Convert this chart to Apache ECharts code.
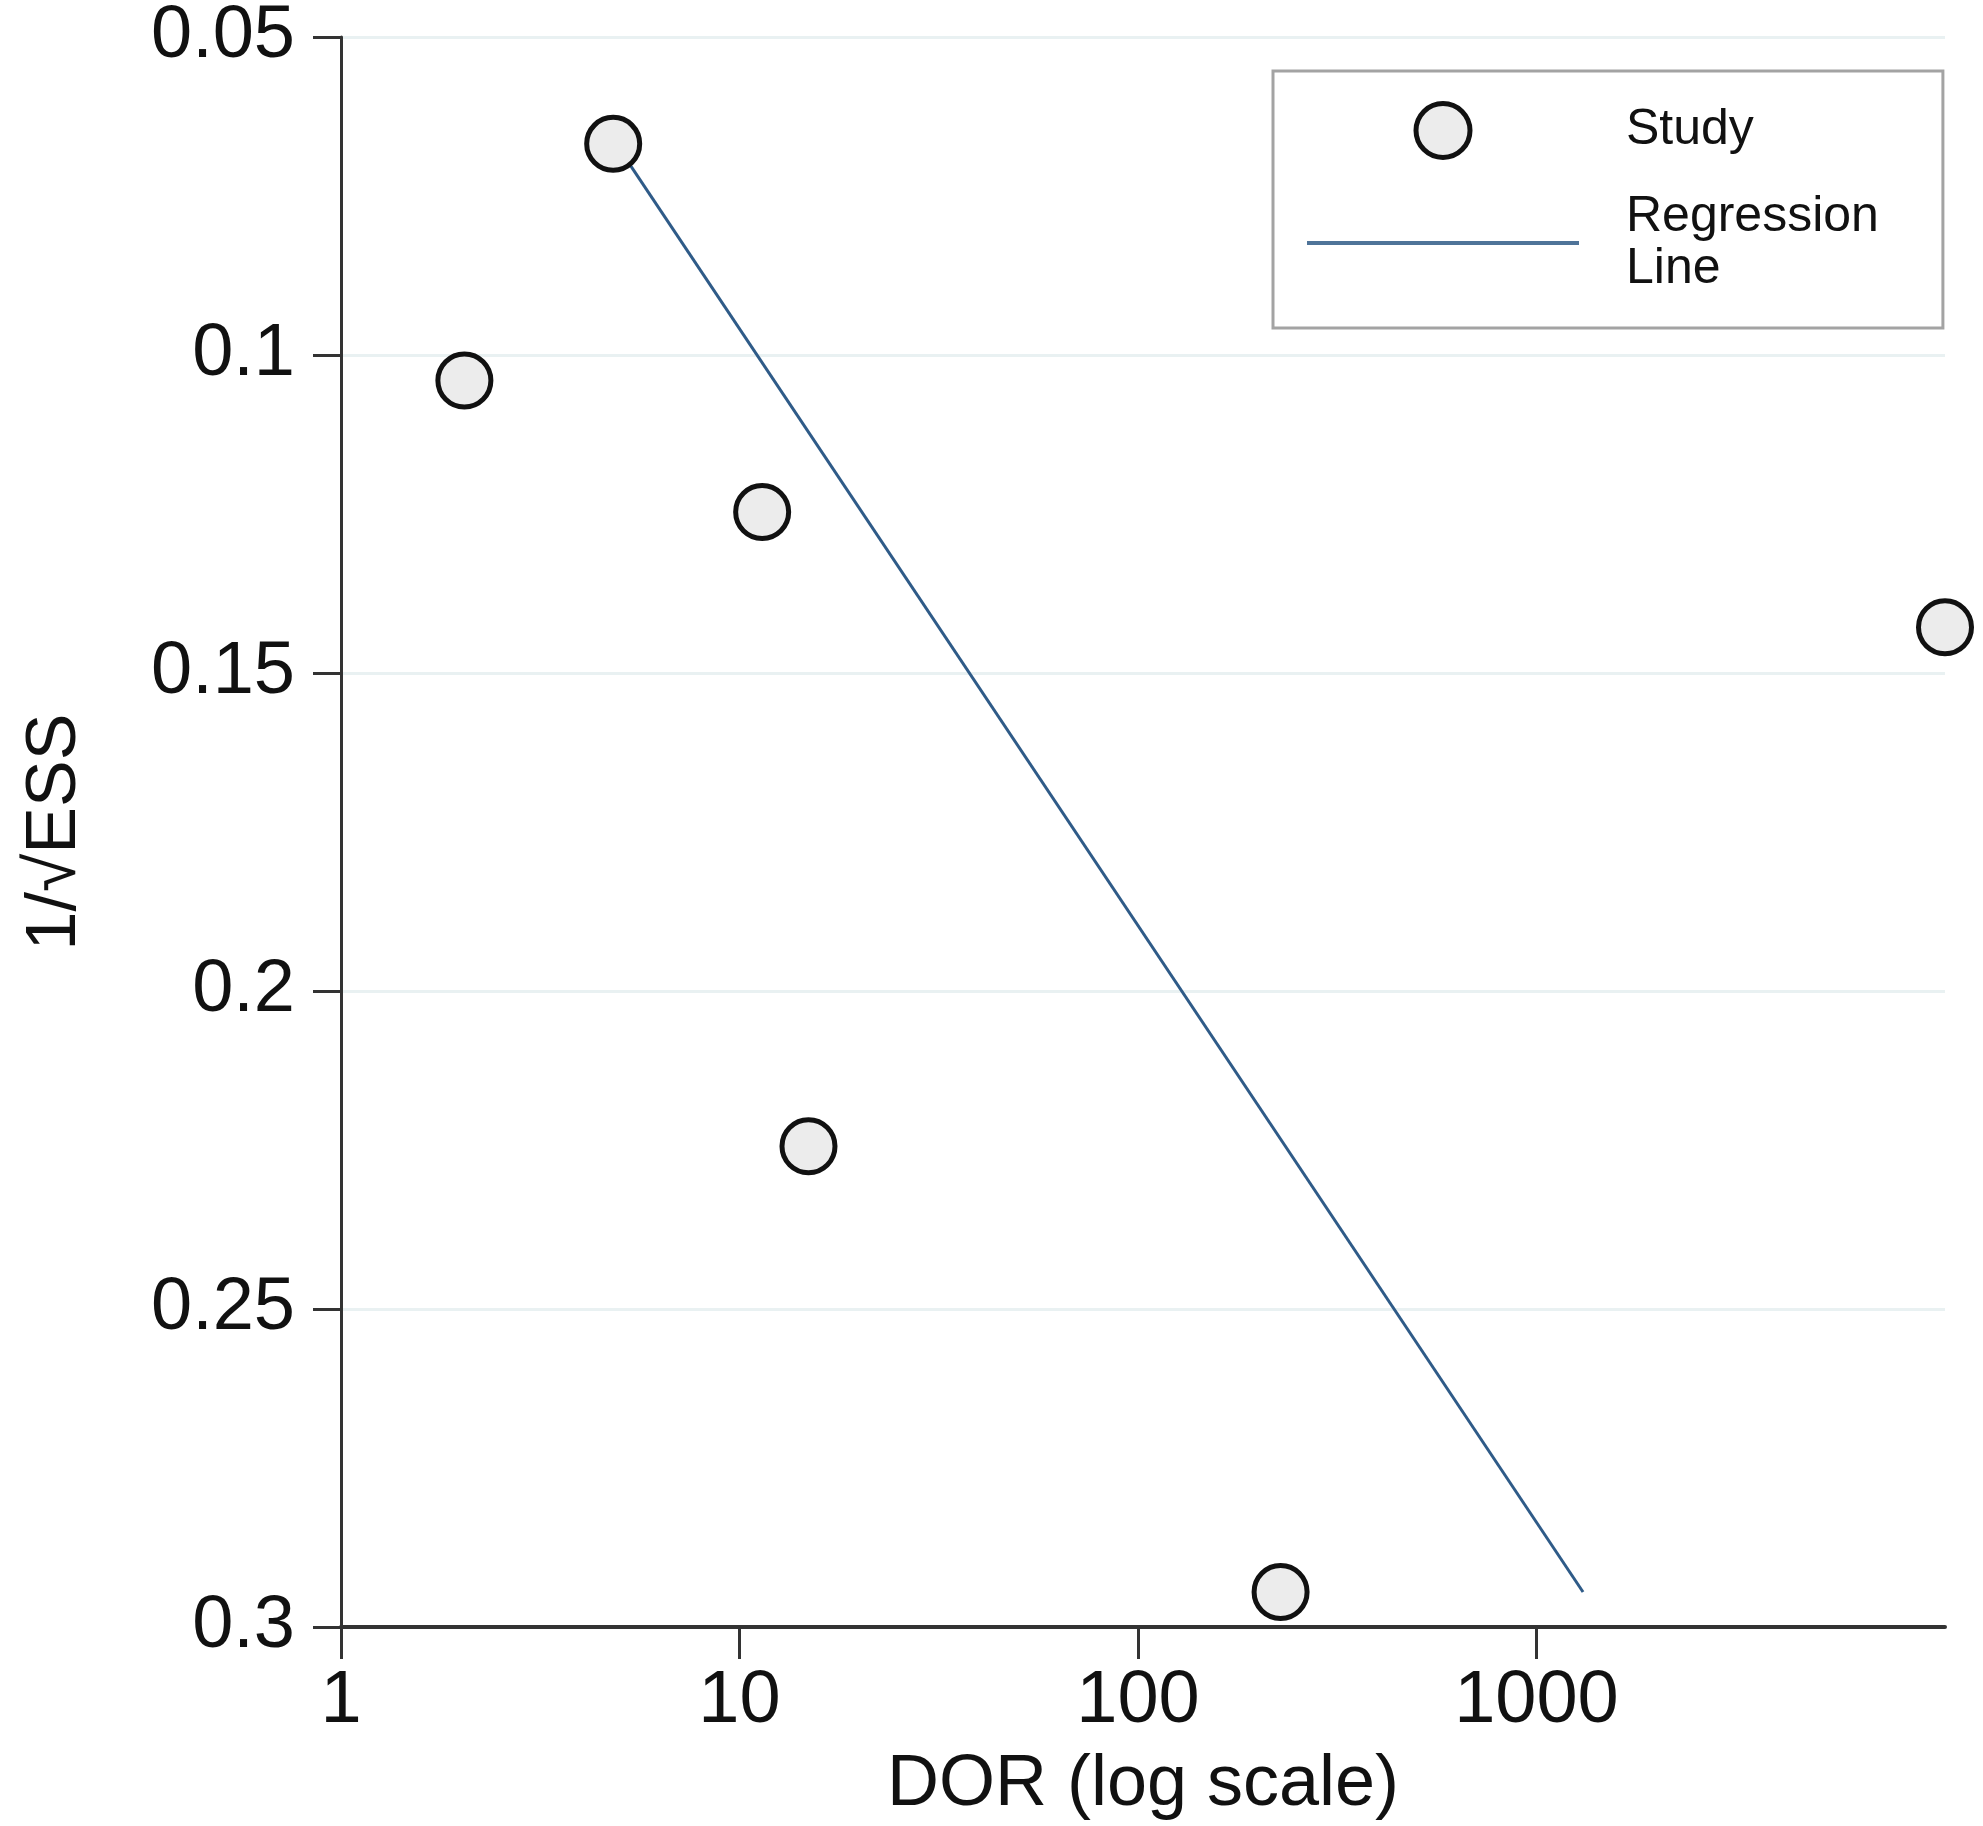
<!DOCTYPE html>
<html>
<head>
<meta charset="utf-8">
<title>Funnel plot - DOR vs 1/sqrt(ESS)</title>
<script src="https://cdn.jsdelivr.net/npm/echarts@6/dist/echarts.min.js"></script>
<style>
html, body { margin: 0; padding: 0; background: #fff; }
#chart { width: 1983px; height: 1826px; }
</style>
</head>
<body>
<div id="chart"></div>
<script>
// data
var studyDor = [4.82, 2.04, 11.4, 10600, 14.9, 228];
var studyInvEss = [0.0668, 0.1040, 0.1247, 0.1428, 0.2244, 0.2945];
var regDor = [4.9, 1309];
var regInvEss = [0.0668, 0.2945];
var xTicks = [1, 10, 100, 1000];

var fontName = '"Liberation Sans", Arial, Helvetica, sans-serif';

function pairs(xs, ys) {
	var out = [];
	for (var i = 0; i < xs.length; i++) {
		out.push([xs[i], ys[i]]);
	}
	return out;
}

var myChart = echarts.init(document.getElementById('chart'), null, { renderer: 'canvas' });

var option = {
	backgroundColor: '#ffffff',
	animation: false,
	textStyle: { fontFamily: fontName },
	grid: {
		left: 341,
		right: 38,
		top: 35,
		bottom: 199
	},
	legend: {
		orient: 'vertical',
		left: 1273,
		top: 71,
		padding: [30, 64, 33, 32],
		borderColor: '#a3a3a3',
		borderWidth: 3,
		itemWidth: 272,
		itemHeight: 54,
		itemGap: 31,
		selectedMode: false,
		textStyle: {
			fontSize: 50,
			lineHeight: 52,
			color: '#111',
			fontFamily: fontName,
			padding: [0, 0, 0, 42]
		},
		data: [{
			name: 'Study',
			itemStyle: { color: '#ececec', borderColor: '#111', borderWidth: 5 }
		}, {
			name: 'Regression\nLine',
			// only the line in the key, no marker
			itemStyle: { color: 'rgba(0,0,0,0)', borderWidth: 0, opacity: 0 },
			lineStyle: { color: '#4f7499', width: 4 }
		}]
	},
	xAxis: {
		type: 'log',
		logBase: 10,
		min: 1,
		max: 10600,
		name: 'DOR (log scale)',
		nameLocation: 'middle',
		nameGap: 122,
		nameTextStyle: { fontSize: 72, color: '#111', fontFamily: fontName },
		axisLine: { onZero: false, lineStyle: { color: '#333', width: 4 } },
		axisTick: {
			show: true,
			length: 32,
			customValues: xTicks,
			lineStyle: { color: '#333', width: 3 }
		},
		axisLabel: {
			fontSize: 74,
			color: '#111',
			margin: 38,
			customValues: xTicks,
			formatter: function (v) { return String(Math.round(v)); }
		},
		splitLine: { show: false },
		minorTick: { show: false }
	},
	yAxis: {
		type: 'value',
		inverse: true,
		min: 0.05,
		max: 0.3,
		interval: 0.05,
		name: '1/\u221AESS',
		nameLocation: 'middle',
		nameGap: 250,
		nameTextStyle: { fontSize: 70, color: '#111', fontFamily: fontName },
		axisLine: { show: true, onZero: false, lineStyle: { color: '#333', width: 3 } },
		axisTick: { show: true, length: 28, lineStyle: { color: '#333', width: 3 } },
		axisLabel: {
			fontSize: 74,
			color: '#111',
			margin: 46,
			formatter: function (v) { return String(+v.toFixed(2)); }
		},
		splitLine: { show: true, lineStyle: { color: '#e9f1f2', width: 3 } }
	},
	series: [{
		name: 'Regression\nLine',
		type: 'line',
		symbol: 'none',
		z: 2,
		lineStyle: { color: '#2f5b88', width: 3 },
		itemStyle: { color: '#2f5b88' },
		data: pairs(regDor, regInvEss)
	}, {
		name: 'Study',
		type: 'scatter',
		symbol: 'circle',
		symbolSize: 53,
		clip: false,
		z: 3,
		itemStyle: {
			color: '#ececec',
			borderColor: '#111',
			borderWidth: 5,
			opacity: 1
		},
		data: pairs(studyDor, studyInvEss)
	}]
};

myChart.setOption(option);
</script>
</body>
</html>
